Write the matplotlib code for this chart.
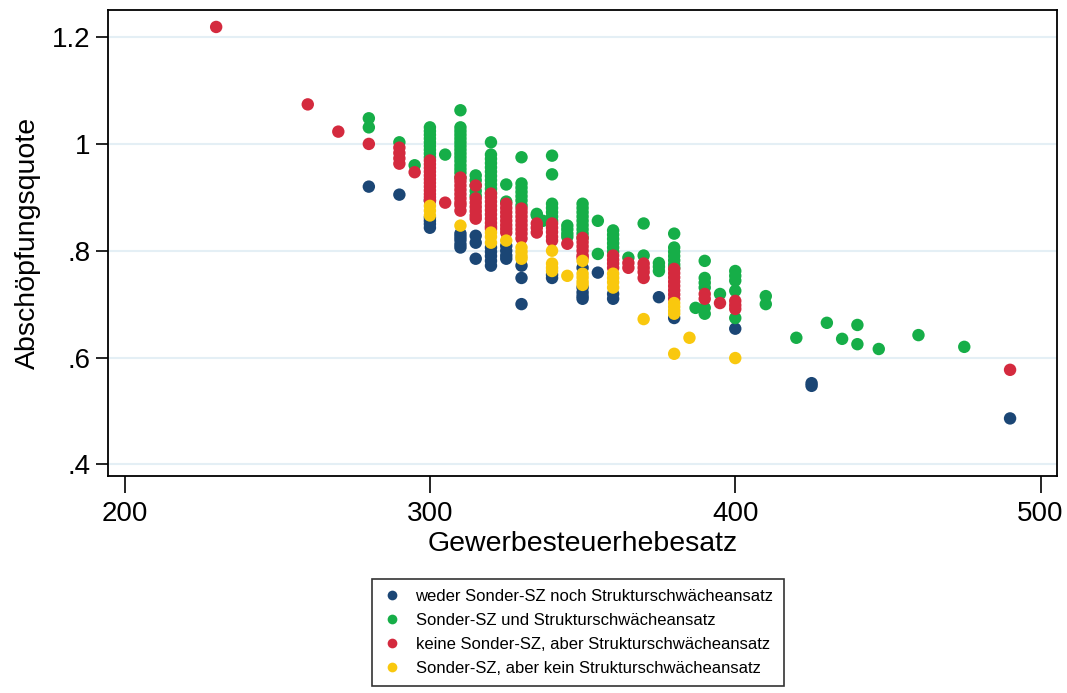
import matplotlib
matplotlib.use("Agg")
from matplotlib import pyplot as plt
from matplotlib.lines import Line2D

plt.rcParams['font.family'] = ['Liberation Sans', 'DejaVu Sans']

# Gewerbesteuerhebesatz (x) / Abschoepfungsquote (y)
weder_x = [280, 290, 300, 300, 300, 300, 300, 310, 310, 310, 310, 310,
           315, 315, 315, 320, 320, 320, 320, 320, 325, 325, 325, 325,
           330, 330, 330, 340, 340, 350, 350, 350, 350, 350, 355, 360, 360,
           375, 380, 400, 425, 425, 490]
weder_y = [0.920, 0.905, 0.894, 0.862, 0.856, 0.850, 0.843, 0.832, 0.826, 0.820, 0.812, 0.806,
           0.828, 0.815, 0.785, 0.806, 0.798, 0.790, 0.781, 0.772, 0.809, 0.800, 0.791, 0.785,
           0.772, 0.749, 0.700, 0.755, 0.749, 0.768, 0.731, 0.722, 0.715, 0.710, 0.759, 0.719, 0.710,
           0.713, 0.674, 0.654, 0.552, 0.547, 0.486]

sonder_x = [280, 280, 290, 295,
            300, 300, 300, 300, 300, 300, 300, 300, 300, 305,
            310, 310, 310, 310, 310, 310, 310, 310, 310, 310, 310, 310, 310, 310, 310,
            315, 315, 315, 315, 315,
            320, 320, 320, 320, 320, 320, 320, 320, 320, 320, 320,
            325, 325, 330, 330, 330, 330, 330, 330, 330, 335, 335, 337,
            340, 340, 340, 340, 340, 340, 340, 345, 345, 345, 345,
            350, 350, 350, 350, 350, 350, 350, 350, 350, 355, 355,
            360, 360, 360, 360, 360, 360, 365, 370, 370, 375, 375, 375,
            380, 380, 380, 380, 380, 380, 380, 387,
            390, 390, 390, 390, 390, 390, 395, 400, 400, 400, 400, 400,
            410, 410, 420, 430, 435, 440, 440, 447, 460, 475]
sonder_y = [1.048, 1.031, 1.003, 0.960,
            1.031, 1.024, 1.017, 1.010, 1.003, 0.996, 0.989, 0.982, 0.975, 0.980,
            1.063, 1.031, 1.024, 1.017, 1.010, 1.003, 0.996, 0.989, 0.982, 0.975, 0.968, 0.960, 0.953, 0.946, 0.937,
            0.941, 0.932, 0.922, 0.912, 0.903,
            1.003, 0.980, 0.972, 0.964, 0.956, 0.948, 0.940, 0.932, 0.924, 0.916, 0.908,
            0.924, 0.892, 0.975, 0.926, 0.918, 0.910, 0.902, 0.894, 0.885, 0.869, 0.866, 0.856,
            0.978, 0.943, 0.888, 0.880, 0.872, 0.864, 0.856, 0.847, 0.840, 0.832, 0.826,
            0.888, 0.880, 0.872, 0.864, 0.856, 0.848, 0.840, 0.832, 0.824, 0.856, 0.794,
            0.838, 0.830, 0.822, 0.814, 0.806, 0.798, 0.787, 0.851, 0.791, 0.777, 0.770, 0.762,
            0.832, 0.806, 0.798, 0.790, 0.782, 0.774, 0.768, 0.693,
            0.781, 0.749, 0.740, 0.731, 0.693, 0.682, 0.719, 0.762, 0.753, 0.744, 0.725, 0.674,
            0.715, 0.700, 0.637, 0.665, 0.635, 0.661, 0.625, 0.616, 0.642, 0.620]

keine_x = [230, 260, 270, 280, 290, 290, 290, 290, 295,
           300, 300, 300, 300, 300, 300, 300, 300, 300, 300, 300, 300, 305,
           310, 310, 310, 310, 310, 310, 310, 310, 310,
           315, 315, 315, 315, 315, 315, 315,
           320, 320, 320, 320, 320, 320, 320, 320, 320, 320,
           325, 325, 325, 325, 325, 325, 325, 325,
           330, 330, 330, 330, 330, 330, 330, 330, 335, 335, 335,
           340, 340, 340, 340, 340, 345,
           350, 350, 350, 350, 350, 350, 360, 360, 360, 360, 365, 365,
           370, 370, 370, 370, 380, 380, 380, 380, 380, 380, 380, 380,
           390, 390, 395, 400, 400, 400, 490]
keine_y = [1.219, 1.074, 1.023, 1.000, 0.993, 0.983, 0.973, 0.963, 0.947,
           0.969, 0.962, 0.955, 0.948, 0.941, 0.934, 0.927, 0.920, 0.913, 0.906, 0.900, 0.894, 0.890,
           0.937, 0.930, 0.922, 0.914, 0.906, 0.898, 0.890, 0.885, 0.875,
           0.922, 0.898, 0.890, 0.882, 0.874, 0.866, 0.860,
           0.907, 0.900, 0.892, 0.884, 0.876, 0.868, 0.860, 0.852, 0.845, 0.841,
           0.888, 0.880, 0.872, 0.864, 0.856, 0.848, 0.841, 0.834,
           0.879, 0.872, 0.864, 0.856, 0.848, 0.840, 0.832, 0.823, 0.851, 0.843, 0.834,
           0.851, 0.843, 0.835, 0.826, 0.819, 0.813,
           0.824, 0.816, 0.808, 0.800, 0.791, 0.787, 0.791, 0.783, 0.776, 0.768, 0.777, 0.768,
           0.776, 0.768, 0.760, 0.749, 0.766, 0.758, 0.750, 0.742, 0.734, 0.726, 0.718, 0.710,
           0.719, 0.710, 0.702, 0.706, 0.698, 0.691, 0.577]

kein_x = [300, 300, 300, 310, 320, 320, 320, 325, 330, 330, 330, 330,
          340, 340, 340, 340, 345, 350, 350, 350, 350, 350,
          360, 360, 360, 360, 370, 380, 380, 380, 380, 380, 385, 400]
kein_y = [0.884, 0.875, 0.866, 0.847, 0.834, 0.826, 0.815, 0.819, 0.806, 0.798, 0.790, 0.785,
          0.800, 0.776, 0.768, 0.762, 0.753, 0.781, 0.757, 0.750, 0.742, 0.736,
          0.757, 0.749, 0.741, 0.731, 0.672, 0.702, 0.695, 0.688, 0.682, 0.607, 0.637, 0.599]

labels = ["weder Sonder-SZ noch Strukturschwächeansatz",
          "Sonder-SZ und Strukturschwächeansatz",
          "keine Sonder-SZ, aber Strukturschwächeansatz",
          "Sonder-SZ, aber kein Strukturschwächeansatz"]
colors = ["#1b4675", "#16ae48", "#d42a3e", "#f9c80e"]

x_ticks = [200, 300, 400, 500]
y_ticks = [0.4, 0.6, 0.8, 1.0, 1.2]
y_ticklabels = [".4", ".6", ".8", "1", "1.2"]

fig = plt.figure(figsize=(10.67, 6.93), dpi=100)
ax = fig.add_axes([0.101, 0.313, 0.890, 0.672])

series = [(weder_x, weder_y), (sonder_x, sonder_y), (keine_x, keine_y), (kein_x, kein_y)]
for (xs, ys), col in zip(series, colors):
    ax.scatter(xs, ys, s=80, color=col, edgecolors="none", zorder=3)

ax.set_xlim(194.5, 505.5)
ax.set_ylim(0.378, 1.25)
ax.set_xticks(x_ticks)
ax.set_yticks(y_ticks)
ax.set_yticklabels(y_ticklabels)
ax.tick_params(axis="both", labelsize=20, length=9, width=1.2, direction="out")
ax.tick_params(axis="x", length=12, pad=6)
ax.yaxis.grid(True, color="#e4eff5", linewidth=1.5)
ax.set_axisbelow(True)
for sp in ax.spines.values():
    sp.set_linewidth(1.3)

ax.set_xlabel("Gewerbesteuerhebesatz", fontsize=20.5, labelpad=3)
ax.set_ylabel("Abschöpfungsquote", fontsize=20.5, labelpad=8)

handles = [Line2D([], [], marker="o", linestyle="", markersize=7, color=c, markeredgewidth=0)
           for c in colors]
leg = fig.legend(handles, labels, loc="upper left", bbox_to_anchor=(0.341, 0.177),
                 fontsize=12, frameon=True, fancybox=False, edgecolor="black",
                 handletextpad=0.8, labelspacing=0.55, borderpad=0.6, handlelength=1.2)
leg.get_frame().set_linewidth(1.2)

fig.savefig("out.png", dpi=100)
